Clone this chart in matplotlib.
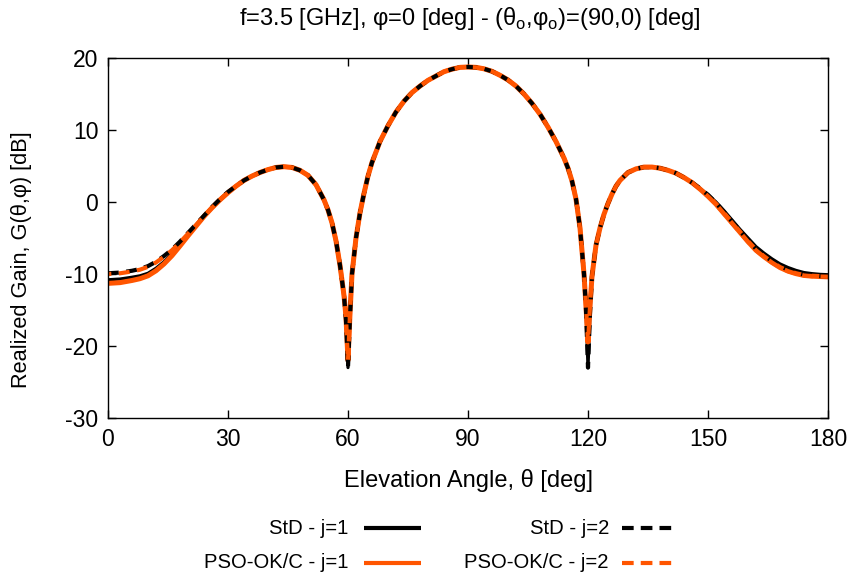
import matplotlib
matplotlib.use("Agg")
import matplotlib.pyplot as plt
from matplotlib.lines import Line2D

plt.rcParams['font.family'] = ['Liberation Sans', 'DejaVu Sans']
plt.rcParams['mathtext.fontset'] = 'custom'
plt.rcParams['mathtext.rm'] = 'Liberation Sans'
plt.rcParams['axes.unicode_minus'] = False

theta = [0, 3, 6, 8, 10, 12, 14, 16, 18, 20, 22, 24, 26, 28, 30, 32, 34, 36, 38, 40,
         42, 44, 46, 48, 50, 52, 54, 55, 56, 57, 58, 59, 59.5, 60, 60.5, 61, 62, 63, 64, 65,
         66, 68, 70, 72, 74, 76, 78, 80, 82, 84, 86, 88, 90, 92, 94, 96, 98, 100, 102, 104,
         106, 108, 110, 112, 114, 115, 116, 117, 118, 119, 119.5, 120, 120.5, 121, 122, 123, 124, 125, 126, 127,
         128, 130, 132, 134, 136, 138, 140, 142, 144, 146, 148, 150, 152, 154, 156, 158, 160, 162, 164, 166,
         168, 170, 172, 174, 176, 178, 180]

std_j1 = [-10.8, -10.7, -10.45, -10.25, -9.9, -9.2, -8.3, -7.2, -5.9, -4.5, -3.2, -1.9, -0.7, 0.4, 1.4, 2.2, 3.0, 3.6, 4.1, 4.5,
          4.8, 4.9, 4.8, 4.4, 3.7, 2.4, 0.3, -1.1, -2.9, -5.4, -8.8, -13.0, -16.5, -23.0, -16.0, -10.0, -5.0, -1.5, 1.2, 3.6,
          5.5, 8.4, 10.6, 12.5, 14.0, 15.2, 16.1, 16.9, 17.5, 18.1, 18.45, 18.7, 18.75, 18.7, 18.5, 18.15, 17.6, 16.95, 16.1, 15.0,
          13.7, 12.2, 10.4, 8.4, 6.1, 4.7, 2.9, 0.4, -3.6, -10.0, -15.0, -23.0, -15.5, -10.3, -6.0, -3.6, -1.7, -0.2, 1.1, 2.2,
          3.0, 4.1, 4.6, 4.85, 4.85, 4.7, 4.4, 4.0, 3.4, 2.7, 1.9, 1.0, 0.0, -1.2, -2.5, -3.8, -5.0, -6.2, -7.1, -7.9,
          -8.6, -9.1, -9.5, -9.8, -9.95, -10.05, -10.1]

std_j2 = [-9.9, -9.8, -9.55, -9.3, -8.9, -8.3, -7.5, -6.6, -5.5, -4.3, -3.1, -1.9, -0.7, 0.4, 1.4, 2.2, 3.0, 3.6, 4.1, 4.5,
          4.8, 4.9, 4.8, 4.4, 3.7, 2.4, 0.3, -1.1, -2.9, -5.4, -8.8, -13.0, -16.5, -23.0, -16.0, -10.0, -5.0, -1.5, 1.2, 3.6,
          5.5, 8.4, 10.6, 12.5, 14.0, 15.2, 16.1, 16.9, 17.5, 18.1, 18.45, 18.7, 18.75, 18.7, 18.5, 18.15, 17.6, 16.95, 16.1, 15.0,
          13.7, 12.2, 10.4, 8.4, 6.1, 4.7, 2.9, 0.4, -3.6, -10.0, -15.0, -23.0, -15.5, -10.3, -6.0, -3.6, -1.7, -0.2, 1.1, 2.2,
          3.0, 4.1, 4.6, 4.85, 4.85, 4.7, 4.4, 4.0, 3.4, 2.7, 1.9, 1.0, -0.1, -1.4, -2.7, -4.0, -5.3, -6.5, -7.4, -8.2,
          -8.9, -9.4, -9.8, -10.1, -10.2, -10.3, -10.35]

pso_j1 = [-11.3, -11.2, -10.9, -10.65, -10.25, -9.55, -8.6, -7.45, -6.1, -4.7, -3.35, -2.0, -0.8, 0.3, 1.3, 2.2, 3.0, 3.6, 4.1, 4.5,
          4.8, 4.9, 4.8, 4.4, 3.7, 2.4, 0.3, -1.1, -2.9, -5.4, -8.8, -13.0, -16.0, -22.0, -15.5, -10.0, -5.0, -1.5, 1.2, 3.6,
          5.5, 8.4, 10.6, 12.5, 14.0, 15.2, 16.1, 16.9, 17.5, 18.1, 18.45, 18.7, 18.75, 18.7, 18.5, 18.15, 17.6, 16.95, 16.1, 15.0,
          13.7, 12.2, 10.4, 8.4, 6.1, 4.7, 2.9, 0.4, -3.6, -10.0, -14.5, -19.5, -14.5, -10.3, -6.0, -3.6, -1.7, -0.2, 1.1, 2.2,
          3.0, 4.1, 4.6, 4.85, 4.85, 4.7, 4.4, 4.0, 3.4, 2.7, 1.8, 0.8, -0.3, -1.6, -2.9, -4.2, -5.5, -6.7, -7.6, -8.4,
          -9.1, -9.6, -9.95, -10.2, -10.3, -10.35, -10.4]

pso_j2 = [-10.0, -9.9, -9.65, -9.4, -9.0, -8.4, -7.6, -6.7, -5.6, -4.4, -3.2, -2.0, -0.8, 0.3, 1.3, 2.2, 3.0, 3.6, 4.1, 4.5,
          4.8, 4.9, 4.8, 4.4, 3.7, 2.4, 0.3, -1.1, -2.9, -5.4, -8.8, -13.0, -16.0, -22.0, -15.5, -10.0, -5.0, -1.5, 1.2, 3.6,
          5.5, 8.4, 10.6, 12.5, 14.0, 15.2, 16.1, 16.9, 17.5, 18.1, 18.45, 18.7, 18.75, 18.7, 18.5, 18.15, 17.6, 16.95, 16.1, 15.0,
          13.7, 12.2, 10.4, 8.4, 6.1, 4.7, 2.9, 0.4, -3.6, -10.0, -14.5, -19.5, -14.5, -10.3, -6.0, -3.6, -1.7, -0.2, 1.1, 2.2,
          3.0, 4.1, 4.6, 4.85, 4.85, 4.7, 4.4, 4.0, 3.4, 2.7, 1.8, 0.8, -0.3, -1.6, -2.9, -4.2, -5.5, -6.7, -7.6, -8.4,
          -9.1, -9.6, -9.95, -10.2, -10.3, -10.35, -10.4]

labels = ["StD - j=1", "PSO-OK/C - j=1", "StD - j=2", "PSO-OK/C - j=2"]
xticks = [0, 30, 60, 90, 120, 150, 180]
yticks = [-30, -20, -10, 0, 10, 20]

ORANGE = '#ff5500'
styles = [
    dict(color='black', lw=2.3, ls='-'),
    dict(color=ORANGE, lw=3.6, ls='-'),
    dict(color='black', lw=3.0, ls=(0, (2.6, 1.8))),
    dict(color=ORANGE, lw=3.0, ls=(1.8, (2.6, 1.8))),
]
series = [std_j1, pso_j1, std_j2, pso_j2]

FS = 16.5
fig = plt.figure(figsize=(8.56, 5.84), dpi=100)
ax = fig.add_axes([108 / 856, 1 - 418 / 584, 720 / 856, 360 / 584])

for vals, st in zip(series, styles):
    ax.plot(theta, vals, color=st['color'], lw=st['lw'], ls=st['ls'], solid_capstyle='butt', dash_capstyle='butt')

ax.set_xlim(0, 180)
ax.set_ylim(-30, 20)
ax.set_xticks(xticks)
ax.set_yticks(yticks)
ax.tick_params(direction='in', length=6, width=1, top=True, right=True, labelsize=FS, pad=7)
for sp in ax.spines.values():
    sp.set_linewidth(1)

fig.text(468 / 856, 1 - 480 / 584, "Elevation Angle, θ [deg]", ha='center', va='center', fontsize=17)
fig.text(22 / 856, 1 - 260 / 584, "Realized Gain, G(θ,φ) [dB]", ha='center', va='center',
         rotation=90, fontsize=15.7)
fig.text(470 / 856, 1 - 18 / 584,
         r"f=3.5 [GHz], φ=0 [deg] - (θ$_\mathregular{o}$,φ$_\mathregular{o}$)=(90,0) [deg]",
         ha='center', va='center', fontsize=17)

# gnuplot-style legend: right-aligned text followed by sample line
col_text_right = [348, 609]
col_line = [(364, 421), (622, 678)]
row_y = [528, 563]
order = [(0, 0), (1, 0), (0, 1), (1, 1)]  # (row, col) for each series
for (r, c), lab, st in zip(order, labels, styles):
    y = 1 - row_y[r] / 584
    fig.text(col_text_right[c] / 856, y, lab, ha='right', va='center', fontsize=14.6)
    x0, x1 = col_line[c]
    fig.add_artist(Line2D([x0 / 856, x1 / 856], [y, y], color=st['color'], lw=3.0,
                          ls=st['ls'] if st['ls'] == '-' else (0, (2.8, 1.7)), solid_capstyle='butt',
                          dash_capstyle='butt', transform=fig.transFigure))

fig.savefig("out.png", dpi=100)
